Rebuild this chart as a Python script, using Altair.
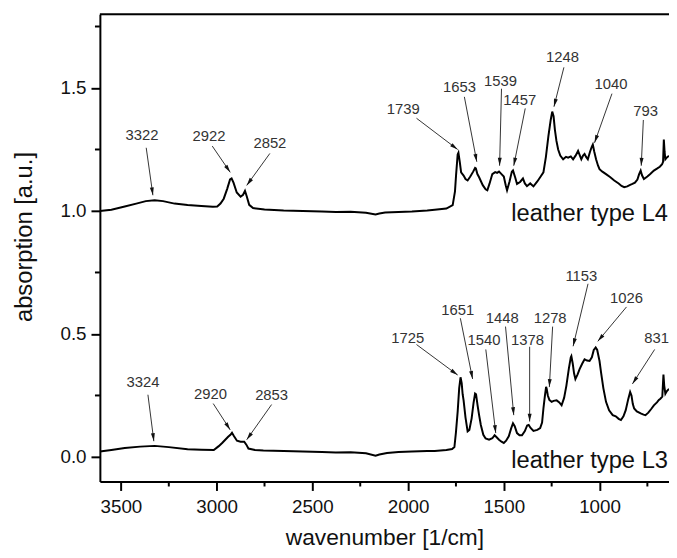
import math
import altair as alt
import pandas as pd

# ---------------- spectra ----------------
l4_wn = [3610, 3550, 3480, 3420, 3370, 3324, 3280, 3220, 3152, 3080, 3020, 2997, 2980, 2963,
         2945, 2930, 2922, 2912, 2895, 2875, 2862, 2852, 2843, 2830, 2810, 2750, 2650, 2550,
         2450, 2377, 2300, 2220, 2170, 2150, 2120, 2050, 1980, 1900, 1861, 1800, 1767, 1755,
         1749, 1741, 1737, 1730, 1723, 1716, 1710, 1700, 1689, 1675, 1660, 1650, 1646, 1638,
         1629, 1610, 1595, 1586, 1575, 1560, 1545, 1535, 1525, 1512, 1500, 1490, 1483, 1470,
         1458, 1452, 1440, 1431, 1415, 1400, 1390, 1379, 1362, 1345, 1325, 1310, 1293, 1280,
         1267, 1255, 1247, 1240, 1233, 1225, 1216, 1205, 1190, 1175, 1164, 1150, 1138, 1125,
         1112, 1104, 1095, 1086, 1078, 1070, 1061, 1050, 1040, 1035, 1027, 1018, 1008, 1000,
         985, 966, 945, 923, 900, 885, 871, 855, 840, 828, 815, 802, 793, 785, 778, 768, 750,
         735, 716, 700, 685, 673, 668, 664, 660, 656, 648, 637]
l4_abs = [1.000, 1.005, 1.018, 1.030, 1.040, 1.044, 1.040, 1.030, 1.024, 1.020, 1.017, 1.018,
          1.030, 1.050, 1.090, 1.128, 1.132, 1.115, 1.075, 1.058, 1.066, 1.082, 1.060, 1.025,
          1.012, 1.006, 1.002, 1.000, 0.998, 0.996, 0.997, 0.993, 0.986, 0.990, 0.994, 0.996,
          0.998, 1.002, 1.005, 1.010, 1.024, 1.080, 1.150, 1.230, 1.237, 1.200, 1.157, 1.150,
          1.144, 1.130, 1.124, 1.140, 1.160, 1.175, 1.173, 1.150, 1.137, 1.105, 1.088, 1.084,
          1.110, 1.150, 1.158, 1.155, 1.160, 1.150, 1.140, 1.105, 1.084, 1.120, 1.160, 1.165,
          1.135, 1.110, 1.118, 1.132, 1.112, 1.101, 1.112, 1.100, 1.120, 1.137, 1.157, 1.220,
          1.304, 1.370, 1.404, 1.385, 1.330, 1.285, 1.250, 1.225, 1.210, 1.220, 1.217, 1.222,
          1.210, 1.225, 1.244, 1.228, 1.210, 1.225, 1.232, 1.220, 1.210, 1.240, 1.262, 1.270,
          1.240, 1.210, 1.185, 1.170, 1.160, 1.150, 1.138, 1.124, 1.112, 1.102, 1.097, 1.100,
          1.106, 1.110, 1.115, 1.128, 1.150, 1.164, 1.145, 1.130, 1.140, 1.150, 1.164, 1.172,
          1.180, 1.190, 1.200, 1.290, 1.240, 1.210, 1.218, 1.224]

l3_wn = [3610, 3550, 3480, 3400, 3324, 3250, 3152, 3080, 3015, 2989, 2970, 2955, 2940, 2928,
         2920, 2910, 2894, 2875, 2856, 2845, 2834, 2800, 2756, 2650, 2550, 2450, 2378, 2300,
         2220, 2170, 2150, 2110, 2050, 1980, 1900, 1861, 1800, 1770, 1758, 1750, 1741, 1733,
         1726, 1720, 1715, 1710, 1700, 1689, 1680, 1668, 1658, 1650, 1645, 1637, 1629, 1620,
         1607, 1595, 1577, 1560, 1548, 1540, 1525, 1512, 1500, 1488, 1474, 1462, 1452, 1443,
         1431, 1418, 1405, 1390, 1378, 1370, 1360, 1345, 1325, 1310, 1300, 1293, 1285, 1279,
         1276, 1270, 1262, 1250, 1240, 1224, 1210, 1198, 1185, 1173, 1160, 1150, 1147, 1140,
         1133, 1126, 1115, 1104, 1090, 1078, 1065, 1052, 1040, 1030, 1020, 1012, 1000, 992,
         980, 966, 950, 931, 915, 900, 888, 875, 863, 850, 840, 833, 826, 819, 805, 785, 770,
         760, 745, 730, 716, 700, 690, 682, 672, 666, 662, 656, 648, 637]
l3_abs = [0.022, 0.028, 0.036, 0.042, 0.045, 0.040, 0.031, 0.029, 0.028, 0.044, 0.058, 0.070,
          0.082, 0.090, 0.098, 0.085, 0.066, 0.062, 0.062, 0.050, 0.034, 0.028, 0.026, 0.024,
          0.022, 0.020, 0.018, 0.019, 0.015, 0.005, 0.010, 0.016, 0.020, 0.022, 0.024, 0.024,
          0.028, 0.032, 0.040, 0.100, 0.184, 0.280, 0.324, 0.300, 0.255, 0.230, 0.160, 0.104,
          0.110, 0.157, 0.220, 0.258, 0.255, 0.210, 0.170, 0.130, 0.090, 0.075, 0.070, 0.076,
          0.088, 0.082, 0.070, 0.062, 0.057, 0.066, 0.084, 0.115, 0.137, 0.125, 0.097, 0.088,
          0.088, 0.105, 0.128, 0.130, 0.118, 0.106, 0.110, 0.117, 0.140, 0.197, 0.250, 0.285,
          0.277, 0.250, 0.232, 0.224, 0.228, 0.230, 0.222, 0.210, 0.240, 0.290, 0.360, 0.405,
          0.410, 0.380, 0.340, 0.317, 0.335, 0.357, 0.380, 0.397, 0.392, 0.390, 0.405, 0.435,
          0.445, 0.435, 0.390, 0.344, 0.280, 0.224, 0.190, 0.170, 0.165, 0.155, 0.150, 0.165,
          0.190, 0.235, 0.264, 0.250, 0.215, 0.197, 0.185, 0.177, 0.172, 0.170, 0.180, 0.195,
          0.210, 0.222, 0.232, 0.237, 0.245, 0.335, 0.290, 0.257, 0.268, 0.277]

series_names = ["leather type L4", "leather type L3"]
series_label_x = [637, 637]
series_label_y = [0.960, -0.044]

# ---------------- axes ----------------
x_ticks = [3500, 3000, 2500, 2000, 1500, 1000]
x_minor = [3250, 2750, 2250, 1750, 1250, 750]
y_ticks = [0.0, 0.5, 1.0, 1.5]
y_minor = [0.25, 0.75, 1.25, 1.75]
x_domain = [637, 3610]
y_domain = [-0.1, 1.8]

# ---------------- peak annotations ----------------
peak_text = ["3322", "2922", "2852", "1739", "1653", "1539", "1457", "1248", "1040", "793",
             "3324", "2920", "2853", "1725", "1651", "1540", "1448", "1378", "1278", "1153",
             "1026", "831"]
label_x = [3390, 3040, 2722, 2025, 1732, 1517, 1417, 1193, 940, 759,
           3385, 3032, 2713, 2002, 1741, 1603, 1508, 1376, 1258, 1095, 859, 702]
label_y = [1.310, 1.304, 1.277, 1.413, 1.504, 1.528, 1.450, 1.624, 1.517, 1.408,
           0.304, 0.257, 0.253, 0.484, 0.597, 0.475, 0.564, 0.477, 0.564, 0.737, 0.644, 0.484]
start_x = [3368, 3023, 2722, 1956, 1706, 1512, 1388, 1186, 935, 771,
           3359, 3018, 2713, 1956, 1727, 1594, 1491, 1365, 1245, 1060, 859, 712]
start_y = [1.257, 1.264, 1.234, 1.377, 1.464, 1.497, 1.417, 1.584, 1.477, 1.370,
           0.253, 0.217, 0.213, 0.457, 0.564, 0.437, 0.530, 0.448, 0.530, 0.704, 0.610, 0.437]
tip_x = [3333, 2929, 2843, 1741, 1641, 1522, 1448, 1238, 1026, 782,
         3328, 2929, 2843, 1741, 1663, 1542, 1448, 1365, 1262, 1138, 1009, 828]
tip_y = [1.064, 1.157, 1.104, 1.250, 1.200, 1.184, 1.184, 1.424, 1.277, 1.184,
         0.064, 0.110, 0.070, 0.333, 0.317, 0.097, 0.170, 0.144, 0.284, 0.450, 0.470, 0.297]

# ---------------- layout ----------------
W, H = 576, 473
FONT = "Liberation Sans"

sx = W / (x_domain[1] - x_domain[0])
sy = H / (y_domain[1] - y_domain[0])

angles = []
for x0, y0, x1, y1 in zip(start_x, start_y, tip_x, tip_y):
    dx = (x1 - x0) * sx      # screen dx from tip toward start (reversed axis)
    dy = (y1 - y0) * sy      # screen dy from tip toward start
    angles.append(math.degrees(math.atan2(dx, -dy)) % 360)

spec_df = pd.concat([
    pd.DataFrame({"wn": l4_wn, "a": l4_abs, "s": series_names[0], "i": range(len(l4_wn))}),
    pd.DataFrame({"wn": l3_wn, "a": l3_abs, "s": series_names[1], "i": range(len(l3_wn))}),
])
ann_df = pd.DataFrame({"t": peak_text, "lx": label_x, "ly": label_y,
                       "x0": start_x, "y0": start_y, "x1": tip_x, "y1": tip_y,
                       "ang": angles})
name_df = pd.DataFrame({"t": series_names, "x": series_label_x, "y": series_label_y})

xscale = alt.Scale(domain=x_domain, reverse=True, nice=False, zero=False)
yscale = alt.Scale(domain=y_domain, nice=False, zero=False)

x_axis = alt.Axis(values=x_ticks, format="d", title="wavenumber [1/cm]", grid=False,
                  labelFont=FONT, labelFontSize=19, labelColor="#111", labelPadding=7,
                  tickSize=9, tickWidth=2, tickColor="black", domainWidth=2,
                  domainColor="black", titleFont=FONT, titleFontSize=23,
                  titleFontWeight="normal", titleColor="#111", titleBaseline="alphabetic",
                  titleY=64)
y_axis = alt.Axis(values=y_ticks, format=".1f", title="absorption [a.u.]", grid=False,
                  labelFont=FONT, labelFontSize=19, labelColor="#111", labelPadding=5,
                  tickSize=9, tickWidth=2, tickColor="black", domainWidth=2,
                  domainColor="black", titleFont=FONT, titleFontSize=24,
                  titleFontWeight="normal", titleColor="#111", titleBaseline="middle",
                  titleX=-76, titleY=225)

lines = alt.Chart(spec_df).mark_line(color="black", strokeWidth=2, clip=True).encode(
    x=alt.X("wn:Q", scale=xscale, axis=x_axis),
    y=alt.Y("a:Q", scale=yscale, axis=y_axis),
    detail="s:N",
    order="i:Q",
)

xminor = alt.Chart(pd.DataFrame({"v": x_minor})).mark_rule(color="black", strokeWidth=2).encode(
    x=alt.X("v:Q", scale=xscale), y=alt.value(H), y2=alt.value(H + 5))
yminor = alt.Chart(pd.DataFrame({"v": y_minor})).mark_rule(color="black", strokeWidth=2).encode(
    y=alt.Y("v:Q", scale=yscale), x=alt.value(-5), x2=alt.value(0))
topline = alt.Chart(pd.DataFrame({"v": [0]})).mark_rule(color="black", strokeWidth=2).encode(
    x=alt.value(0), x2=alt.value(W), y=alt.value(0))

arrows = alt.Chart(ann_df).mark_rule(color="#333", strokeWidth=1).encode(
    x=alt.X("x0:Q", scale=xscale), y=alt.Y("y0:Q", scale=yscale),
    x2="x1:Q", y2="y1:Q")
heads = alt.Chart(ann_df).mark_point(
    shape="M0,0L-0.5,-2L0.5,-2Z", filled=True, color="#111", opacity=1, size=64,
    strokeWidth=0).encode(
    x=alt.X("x1:Q", scale=xscale), y=alt.Y("y1:Q", scale=yscale),
    angle=alt.Angle("ang:Q", scale=None))
labels = alt.Chart(ann_df).mark_text(font=FONT, fontSize=15, color="#333",
                                     align="center", baseline="middle").encode(
    x=alt.X("lx:Q", scale=xscale), y=alt.Y("ly:Q", scale=yscale), text="t:N")
names = alt.Chart(name_df).mark_text(font=FONT, fontSize=24, color="#111",
                                     align="right", baseline="alphabetic", dx=-1).encode(
    x=alt.X("x:Q", scale=xscale), y=alt.Y("y:Q", scale=yscale), text="t:N")

chart = alt.layer(lines, xminor, yminor, topline, arrows, heads, labels, names).properties(
    width=W, height=H,
    autosize=alt.AutoSizeParams(type="none"),
    padding={"left": 93, "top": 3, "right": 0, "bottom": 66},
).configure_view(stroke=None).configure(background="white")

chart.save("out.html", embed_options={"renderer": "svg", "actions": False})
